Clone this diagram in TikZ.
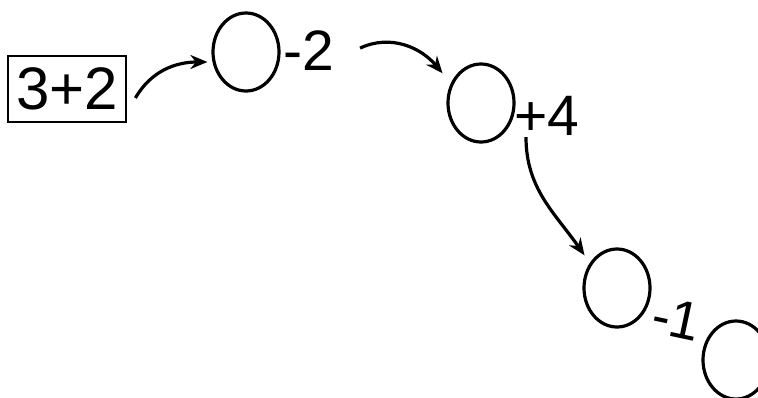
\documentclass[tikz,border=0pt]{standalone}
\usepackage{fontspec}
\setmainfont{Liberation Sans}
\usetikzlibrary{shapes.geometric,arrows.meta}
\begin{document}
\begin{tikzpicture}[x=1pt,y=-1pt,
  oval/.style={draw,ellipse,line width=3.2pt,minimum width=66pt,minimum height=78pt,inner sep=0pt},
  numbox/.style={draw,line width=2.8pt,minimum width=118pt,minimum height=66pt,inner sep=0pt,font=\fontsize{60}{60}\selectfont},
  lbl/.style={inner sep=0pt,font=\fontsize{57}{57}\selectfont},
  arr/.style={line width=3.2pt,-{Stealth[length=17pt,width=14pt]}}]
\path[use as bounding box] (0,0) rectangle (758,397);
\clip (0,0) rectangle (758,397);
\node[numbox] (b) at (67,89) {3+2};
\node[oval] (c1) at (246,52) {};
\node[oval] (c2) at (481,103) {};
\node[oval] (c3) at (617,288) {};
\node[oval] (c4) at (736,360) {};
\node[lbl,anchor=base west] (l1) at (283,70) {-2};
\node[lbl,anchor=base west] (l2) at (514,135) {+4};
\node[lbl,anchor=base west,rotate=-12,font=\fontsize{54}{54}\selectfont] (l3) at (649,332) {-1};
\draw[arr] ([xshift=8pt,yshift=-9pt]b.east) to[out=60,in=180] ([xshift=-4pt,yshift=-10pt]c1.west);
\draw[arr] ([xshift=26pt,yshift=2pt]l1.east) to[out=25,in=130] ([xshift=-14pt,yshift=1pt]c2.north west);
\draw[arr] ([xshift=12pt,yshift=-2pt]l2.south west) to[out=-90,in=125] ([xshift=-8pt,yshift=4pt]c3.north west);
\end{tikzpicture}
\end{document}
